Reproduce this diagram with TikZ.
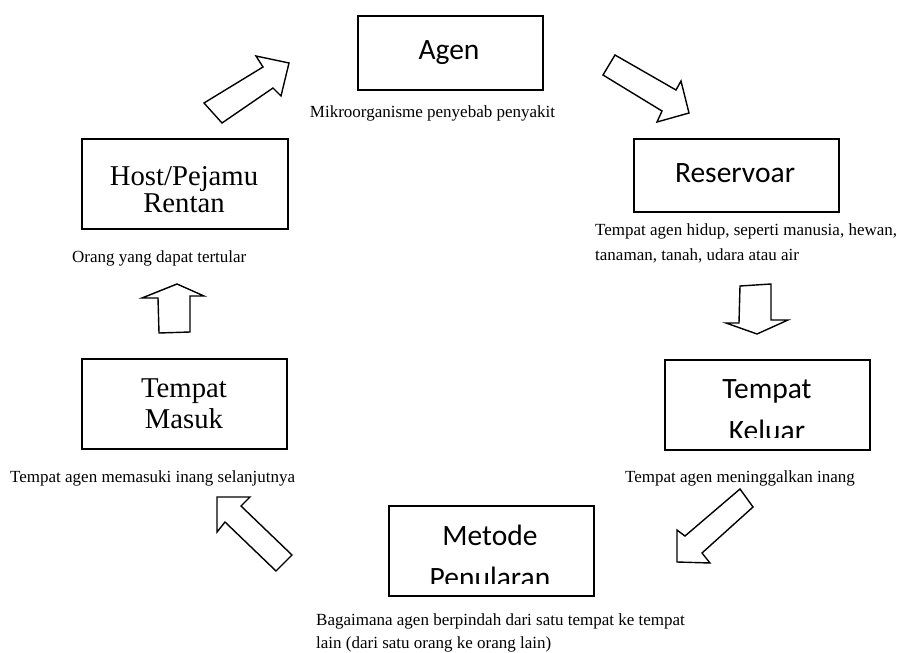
\documentclass[tikz,border=0pt]{standalone}
\usepackage{fontspec}
\setmainfont{Liberation Serif}
\newfontfamily\boxsans{Carlito}
\begin{document}
\begin{tikzpicture}[x=1pt,y=-1pt,
  box/.style={draw, line width=1.7pt, inner sep=0pt, anchor=north west},
  sanslbl/.style={font=\boxsans\fontsize{29.5}{35}\selectfont, inner sep=0pt, anchor=base},
  serlbl/.style={font=\fontsize{28.7}{32}\selectfont, inner sep=0pt, anchor=base},
  captext/.style={font=\fontsize{17}{24}\selectfont, inner sep=0pt, anchor=base west},
  blockarrow/.style={draw, fill=white, line width=1.4pt, line join=miter}]
\useasboundingbox (0,0) rectangle (898,653);

% boxes
\node[box, minimum width=185pt, minimum height=74pt] (agen) at (357,15) {};
\node[box, minimum width=205pt, minimum height=73pt] (reservoar) at (633,138) {};
\node[box, minimum width=205pt, minimum height=90pt] (keluar) at (664,359) {};
\node[box, minimum width=205pt, minimum height=90pt] (metode) at (388,505) {};
\node[box, minimum width=205pt, minimum height=90pt] (masuk) at (81,358) {};
\node[box, minimum width=206pt, minimum height=90pt] (host) at (81,138) {};

% box texts
\node[sanslbl] (tagen) at (449,59) {Agen};
\node[sanslbl] (tres) at (735,182) {Reservoar};
\begin{scope}
  \clip (664,359) rectangle (869,437);
  \node[sanslbl] (tkel1) at (767,398) {Tempat};
  \node[sanslbl] (tkel2) at (767,440) {Keluar};
\end{scope}
\begin{scope}
  \clip (388,505) rectangle (593,583);
  \node[sanslbl] (tmet1) at (490,545) {Metode};
  \node[sanslbl] (tmet2) at (490,587) {Penularan};
\end{scope}
\node[serlbl] (tmas1) at (184,397) {Tempat};
\node[serlbl] (tmas2) at (184,428) {Masuk};
\node[serlbl] (thost1) at (184,185) {Host/Pejamu};
\node[serlbl] (thost2) at (184,212) {Rentan};

% captions
\node[captext, anchor=base] (cagen) at (432.5,117) {Mikroorganisme penyebab penyakit};
\node[captext] (cres1) at (595,235) {Tempat agen hidup, seperti manusia, hewan,};
\node[captext] (cres2) at (595,260) {tanaman, tanah, udara atau air};
\node[captext] (ckel) at (625,482) {Tempat agen meninggalkan inang};
\node[captext] (cmet1) at (316,625) {Bagaimana agen berpindah dari satu tempat ke tempat};
\node[captext] (cmet2) at (316,648) {lain (dari satu orang ke orang lain)};
\node[captext] (cmas) at (10,482) {Tempat agen memasuki inang selanjutnya};
\node[captext] (chost) at (72,262) {Orang yang dapat tertular};

% block arrows
\draw[blockarrow] (204,103) -- (263,67) -- (256,56) -- (289,63) -- (281,96) -- (273,88) -- (222,123) -- cycle;
\draw[blockarrow] (615,55) -- (676,90) -- (681,81) -- (689,113) -- (657,122) -- (662,111) -- (603,75) -- cycle;
\draw[blockarrow] (740,286) -- (771,284) -- (771,320) -- (788,320) -- (757,334) -- (726,323) -- (739,323) -- cycle;
\draw[blockarrow] (740,489) -- (753,507) -- (702,553) -- (710,563) -- (677,562) -- (677,530) -- (685,536) -- cycle;
\draw[blockarrow] (292,555) -- (276,571) -- (225,522) -- (217,532) -- (217,497) -- (250,497) -- (241,506) -- cycle;
\draw[blockarrow] (159,333) -- (190,332) -- (190,296) -- (204,296) -- (177,284) -- (142,298) -- (158,298) -- cycle;
\end{tikzpicture}
\end{document}
